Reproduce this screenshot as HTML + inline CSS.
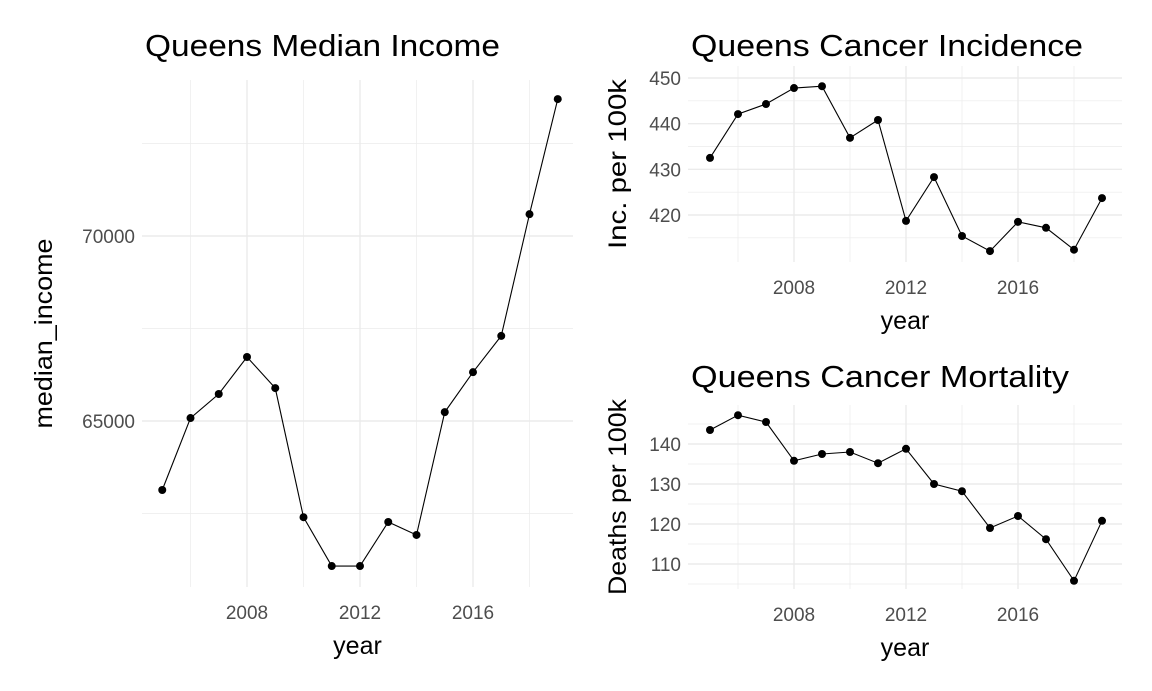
<!DOCTYPE html>
<html><head><meta charset="utf-8"><style>
body{margin:0;background:#fff;}
svg{display:block;font-family:"Liberation Sans",sans-serif;}
</style></head><body>
<svg id="c" width="1152" height="691"></svg>
<script>
const years=[2005,2006,2007,2008,2009,2010,2011,2012,2013,2014,2015,2016,2017,2018,2019];
const income=[63135,65080,65730,66730,65890,62400,61080,61080,62270,61920,65240,66320,67300,70590,73700];
const incidence=[432.5,442.1,444.3,447.8,448.2,436.9,440.8,418.7,428.3,415.4,412.1,418.5,417.2,412.4,423.7];
const mortality=[143.5,147.2,145.5,135.8,137.5,138,135.2,138.8,130,128.2,119,122,116.2,105.8,120.8];
const xTicks=[2008,2012,2016];
const xMinor=[2006,2010,2014,2018];
const incYTicks=[65000,70000];const incYMinor=[62500,67500,72500];
const cIncTicks=[420,430,440,450];const cIncMinor=[415,425,435,445];
const mortTicks=[110,120,130,140];const mortMinor=[105,115,125,135,145];
const svg=document.getElementById('c');const NS='http://www.w3.org/2000/svg';
function mk(tag,at,parent){const e=document.createElementNS(NS,tag);for(const k in at)e.setAttribute(k,at[k]);(parent||svg).appendChild(e);return e;}
function panel(o){
 const g=mk('g',{});
 
 
 const sx=v=>o.x0+(v-o.xa)/(o.xb-o.xa)*(o.x1-o.x0);
 const sy=v=>o.ya+(v-o.va)/(o.vb-o.va)*(o.yb-o.ya);
 o.yMinor.forEach(v=>mk('line',{x1:o.L,x2:o.R,y1:sy(v),y2:sy(v),stroke:'#ebebeb','stroke-width':0.7},g));
 xMinor.forEach(v=>mk('line',{x1:sx(v),x2:sx(v),y1:o.T,y2:o.B,stroke:'#ebebeb','stroke-width':0.7},g));
 o.yTicks.forEach(v=>{mk('line',{x1:o.L,x2:o.R,y1:sy(v),y2:sy(v),stroke:'#ebebeb','stroke-width':1.4},g);
  const t=mk('text',{x:o.L-7,y:sy(v)+7,'text-anchor':'end','font-size':19,fill:'#4d4d4d'},g);t.textContent=v;
  });
 xTicks.forEach(v=>{mk('line',{x1:sx(v),x2:sx(v),y1:o.T,y2:o.B,stroke:'#ebebeb','stroke-width':1.4},g);
  const t=mk('text',{x:sx(v),y:o.B+32,'text-anchor':'middle','font-size':19,fill:'#4d4d4d'},g);t.textContent=v;
  });
 const pts=years.map((y,i)=>sx(y)+','+sy(o.data[i])).join(' ');
 const pl=mk('polyline',{points:pts,fill:'none',stroke:'#000','stroke-width':1.1},g);
 
 years.forEach((y,i)=>{const c=mk('circle',{cx:sx(y),cy:sy(o.data[i]),r:4,fill:'#000'},g);
  });
 const ti=mk('text',{x:o.L+3,y:o.tiy,'font-size':31,fill:'#000',textLength:o.tw,lengthAdjust:'spacingAndGlyphs'},g);ti.textContent=o.title;
 
 const xt=mk('text',{x:(o.L+o.R)/2,y:o.B+67,'text-anchor':'middle','font-size':25,fill:'#000'},g);xt.textContent='year';
 
 const cy=(o.T+o.B)/2;
 const yt=mk('text',{x:o.ytx,y:cy,'text-anchor':'middle','font-size':25,fill:'#000',textLength:o.yw,lengthAdjust:'spacingAndGlyphs',transform:`rotate(-90 ${o.ytx} ${cy})`},g);yt.textContent=o.ylab;
 
}
panel({name:'income-panel',title:'Queens Median Income',ylab:'median_income',data:income,L:142,R:573,T:80,B:587,tiy:56,tw:355,yw:190,
 xa:2008,xb:2016,x0:247,x1:473,va:65000,vb:70000,ya:421,yb:236,yTicks:incYTicks,yMinor:incYMinor,ytx:52});
panel({name:'incidence-panel',title:'Queens Cancer Incidence',ylab:'Inc. per 100k',data:incidence,L:688,R:1122,T:66,B:262,tiy:56,tw:392,yw:170,
 xa:2008,xb:2016,x0:794,x1:1018,va:450,vb:420,ya:78,yb:215,yTicks:cIncTicks,yMinor:cIncMinor,ytx:626});
panel({name:'mortality-panel',title:'Queens Cancer Mortality',ylab:'Deaths per 100k',data:mortality,L:688,R:1122,T:405,B:589,tiy:387,tw:378,yw:196,
 xa:2008,xb:2016,x0:794,x1:1018,va:140,vb:110,ya:444,yb:564,yTicks:mortTicks,yMinor:mortMinor,ytx:626});
</script>
</body></html>
